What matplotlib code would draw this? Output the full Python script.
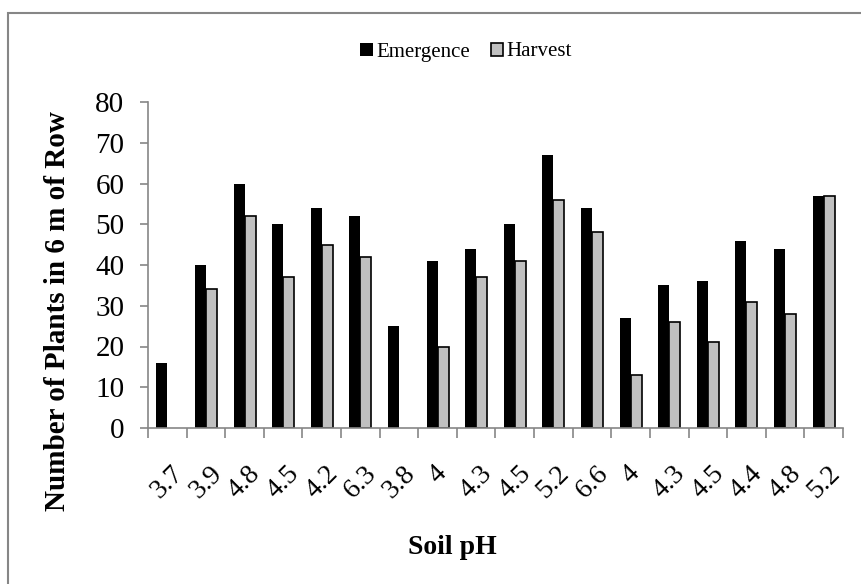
import numpy as np
import matplotlib
matplotlib.use("Agg")
import matplotlib.pyplot as plt
from matplotlib.patches import Rectangle

plt.rcParams['font.family'] = ['Liberation Serif', 'DejaVu Serif']

ph_labels = ["3.7", "3.9", "4.8", "4.5", "4.2", "6.3", "3.8", "4", "4.3",
             "4.5", "5.2", "6.6", "4", "4.3", "4.5", "4.4", "4.8", "5.2"]
emergence = [16, 40, 60, 50, 54, 52, 25, 41, 44, 50, 67, 54, 27, 35, 36, 46, 44, 57]
harvest = [np.nan, 34, 52, 37, 45, 42, np.nan, 20, 37, 41, 56, 48, 13, 26, 21, 31, 28, 57]

axis_gray = "#868686"

fig = plt.figure(figsize=(8.61, 5.84), dpi=100)
ax = fig.add_axes([148/861, 1-428/584, 695/861, 326/584])

x = np.arange(len(ph_labels))
w = 0.285
ax.bar(x - w/2, emergence, w, color="black", label="Emergence")
ax.bar(x + w/2, harvest, w, color="#C0C0C0", edgecolor="black", linewidth=1.2, label="Harvest")

ax.set_xlim(-0.5, len(ph_labels) - 0.5)
ax.set_ylim(0, 80)
ax.set_yticks(range(0, 81, 10))
ax.tick_params(axis="y", labelsize=21, direction="out", length=6, color=axis_gray, width=1.2, pad=11)

ax.set_xticks(x)
ax.set_xticklabels(ph_labels, rotation=45, fontsize=20)
ax.set_xticks(np.arange(-0.5, len(ph_labels)), minor=True)
ax.tick_params(axis="x", which="major", length=0, pad=24)
ax.tick_params(axis="x", which="minor", length=7, color=axis_gray, width=1.2, direction="out")

for s in ["top", "right"]:
    ax.spines[s].set_visible(False)
for s in ["left", "bottom"]:
    ax.spines[s].set_color(axis_gray)
    ax.spines[s].set_linewidth(1.2)

fig.text(58/861, 1-311/584, "Number of Plants in 6 m of Row", rotation=90,
         ha="center", va="center", fontsize=21, fontweight="bold")
fig.text(452/861, 1-547/584, "Soil pH", ha="center", va="center",
         fontsize=20, fontweight="bold")

fig.legend(loc="center", bbox_to_anchor=(466/861, 1-52/584), ncol=2, frameon=False,
           fontsize=15, handlelength=0.6, handleheight=0.6, handletextpad=0.15,
           columnspacing=1.0)

fig.patches.append(Rectangle((8/861, -0.1), 1.2, 1-13/584+0.1, transform=fig.transFigure,
                             fill=False, edgecolor=axis_gray, linewidth=1.5))

fig.savefig("out.png", dpi=100)
